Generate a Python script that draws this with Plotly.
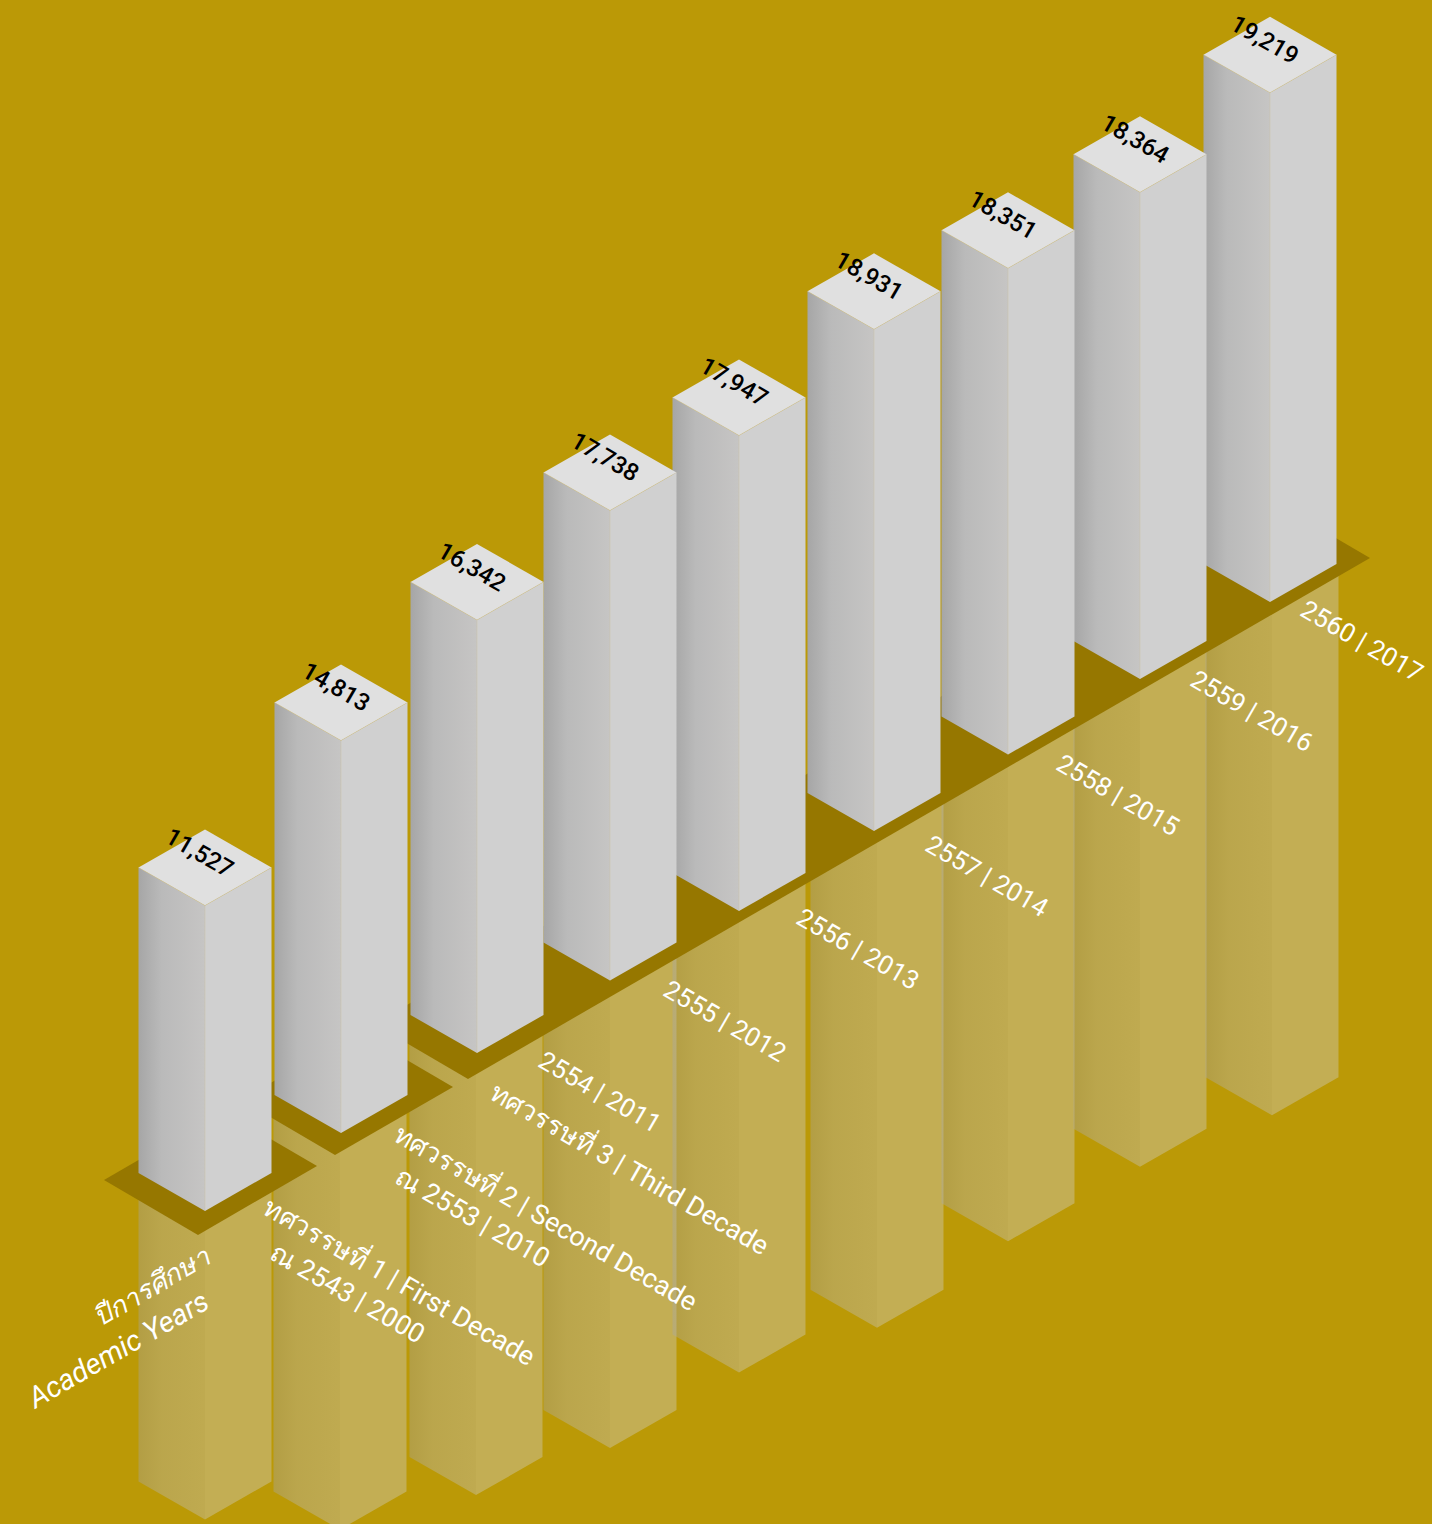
import plotly.graph_objects as go

# ---- data ----
values = [11527, 14813, 16342, 17738, 17947, 18931, 18351, 18364, 19219]
period_labels = ["2554 | 2011", "2555 | 2012", "2556 | 2013", "2557 | 2014",
                 "2558 | 2015", "2559 | 2016", "2560 | 2017"]
decade_labels = ["ทศวรรษที่ 1 | First Decade", "ณ 2543 | 2000",
                 "ทศวรรษที่ 2 | Second Decade", "ณ 2553 | 2010",
                 "ทศวรรษที่ 3 | Third Decade"]
axis_labels = ["ปีการศึกษา", "Academic Years"]

# ---- layout constants (isometric projection) ----
W, H = 1432, 1524
SCALE = 0.0265
HW, HD = 66.5, 38.0
base_x = [205, 341, 477, 610, 739, 874, 1008, 1140, 1270]
base_y = [1211, 1133, 1053, 980.5, 911, 831, 754.5, 679, 602]
mirror_x = [205, 340, 476, 610, 739, 877, 1008, 1140, 1272]
mirror_y = [1214, 1137, 1062, 978, 897, 826, 755, 680, 606]
plates = [
    [(104, 1180), (198, 1235), (317, 1166), (223, 1111)],
    [(241, 1100), (335, 1155), (453, 1087), (359, 1032)],
    [(374, 1024), (468, 1079), (1370, 558), (1276, 503)],
]
period_xy = [(600, 1092), (725, 1021), (858, 949), (987, 876), (1118, 795), (1252, 711), (1362, 641)]
decade_xy = [(400, 1280), (347, 1293), (546, 1216), (472, 1217), (630, 1167)]
axis_xy = [(152, 1287), (117, 1350)]
axis_sizes = [27, 29]
value_off = (-5, -15)

BG = "#BB9906"
PLATE = "#967700"
TOP = "#E0E0E0"
RIGHT = "#D0D0D0"
LEFT_SCALE = [[0, "#A6A6A6"], [0.35, "#BABABA"], [1, "#C6C5C4"]]
ALPHA = 0.39
FONT = "Roboto, 'Noto Sans', sans-serif"


def rgba(hex_colour, a):
    h = hex_colour.lstrip("#")
    return "rgba(%d,%d,%d,%g)" % (int(h[:2], 16), int(h[2:4], 16), int(h[4:], 16), a)


def poly(pts, **kw):
    xs = [p[0] for p in pts] + [pts[0][0]]
    ys = [p[1] for p in pts] + [pts[0][1]]
    return go.Scatter(x=xs, y=ys, mode="lines", fill="toself", hoverinfo="skip",
                      showlegend=False, **kw)


def no_line():
    return dict(width=0, color="rgba(0,0,0,0)")


fig = go.Figure()

# mirrored bars on the floor
for v, x, y in zip(values, mirror_x, mirror_y):
    h = v * SCALE
    left = [(x - HW, y - HD), (x, y), (x, y + h), (x - HW, y + h - HD)]
    right = [(x, y), (x + HW, y - HD), (x + HW, y + h - HD), (x, y + h)]
    fig.add_trace(poly(left, line=no_line(),
                       fillgradient=dict(type="horizontal",
                                         colorscale=[[s, rgba(c, ALPHA)] for s, c in LEFT_SCALE])))
    fig.add_trace(poly(right, line=no_line(), fillcolor=rgba(RIGHT, ALPHA)))

# floor plates
for p in plates:
    fig.add_trace(poly(p, line=no_line(), fillcolor=PLATE))

# bars, back to front
edge = dict(width=0.6, color="rgba(205,190,150,0.6)")
for v, x, y in reversed(list(zip(values, base_x, base_y))):
    h = v * SCALE
    t = y - h
    left = [(x - HW, t - HD), (x, t), (x, y), (x - HW, y - HD)]
    right = [(x, t), (x + HW, t - HD), (x + HW, y - HD), (x, y)]
    top = [(x - HW, t - HD), (x, t), (x + HW, t - HD), (x, t - 2 * HD)]
    fig.add_trace(poly(left, line=no_line(),
                       fillgradient=dict(type="horizontal", colorscale=LEFT_SCALE)))
    fig.add_trace(poly(right, line=no_line(), fillcolor=RIGHT))
    fig.add_trace(poly(top, line=no_line(), fillcolor=TOP))
    fig.add_trace(go.Scatter(x=[x - HW, x, x + HW, None, x, x],
                             y=[t - HD, t, t - HD, None, t, y],
                             mode="lines", line=edge, hoverinfo="skip", showlegend=False))


def label(text, x, y, angle, colour, size, **font):
    fig.add_annotation(x=x, y=y, text=text, showarrow=False, textangle=angle,
                       xanchor="center", yanchor="middle",
                       font=dict(family=FONT, size=size, color=colour, **font))


for v, x, y in zip(values, base_x, base_y):
    label(f"{v:,}", x + value_off[0], y - v * SCALE - HD + value_off[1], 30, "#000000", 24, weight=500)
for t, (x, y) in zip(period_labels, period_xy):
    label(t, x, y, 30, "#FFFFFF", 26)
for t, (x, y) in zip(decade_labels, decade_xy):
    label(t, x, y, 30, "#FFFFFF", 27)
for t, (x, y), s in zip(axis_labels, axis_xy, axis_sizes):
    label(t, x, y, -30, "#FFFFFF", s, style="italic")

axis = dict(visible=False, showgrid=False, zeroline=False, fixedrange=True)
fig.update_layout(
    width=W, height=H, margin=dict(l=0, r=0, t=0, b=0),
    paper_bgcolor=BG, plot_bgcolor=BG,
    xaxis=dict(range=[0, W], **axis),
    yaxis=dict(range=[H, 0], **axis),
    showlegend=False,
)
fig.write_html("out.html", config={"displayModeBar": False},
               post_script="document.body.style.margin='0';document.body.style.background='%s';" % BG)
